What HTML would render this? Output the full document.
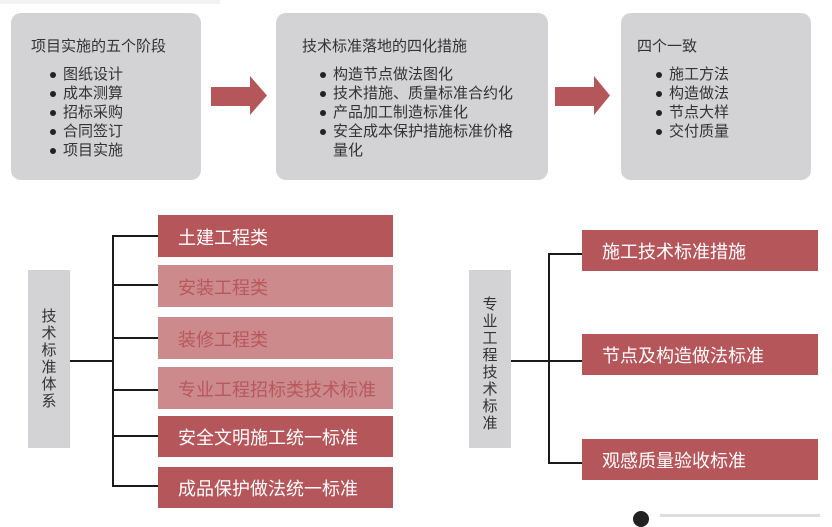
<!DOCTYPE html>
<html><head><meta charset="utf-8"><style>
*{margin:0;padding:0;box-sizing:border-box}
body{width:832px;height:517px;background:#fff;position:relative;overflow:hidden;font-family:"Liberation Sans","Noto Sans CJK SC",sans-serif}
.a{position:absolute}
.g{background:#d3d3d5;border-radius:10px}
.t{position:absolute;font-size:15px;color:#333;white-space:nowrap;line-height:19px}
.li{position:absolute;font-size:15px;color:#333;white-space:nowrap;line-height:19px}
.li:before{content:"";position:absolute;left:-13px;top:7px;width:6px;height:6px;border-radius:50%;background:#222}
.bar{position:absolute;background:#b5565a;color:#fff;font-size:18px;line-height:46px;padding-left:20px;white-space:nowrap}
.lt{background:#cc8a8c;color:#b8585c}
.vl{position:absolute;background:#d3d3d5;color:#333;font-size:15px;line-height:17px;text-align:center}
.k{position:absolute;background:#1a1a1a}
</style></head><body>
<div class="a" style="left:0;top:0;width:220px;height:4px;background:#f2f2f2"></div>
<div class="a g" style="left:11px;top:13px;width:190px;height:167px"></div>
<div class="t" style="left:31px;top:37px">项目实施的五个阶段</div>
<div class="li" style="left:63px;top:65px">图纸设计</div>
<div class="li" style="left:63px;top:84px">成本测算</div>
<div class="li" style="left:63px;top:103px">招标采购</div>
<div class="li" style="left:63px;top:122px">合同签订</div>
<div class="li" style="left:63px;top:141px">项目实施</div>

<div class="a g" style="left:276px;top:13px;width:272px;height:167px"></div>
<div class="t" style="left:302px;top:37px">技术标准落地的四化措施</div>
<div class="li" style="left:333px;top:65px">构造节点做法图化</div>
<div class="li" style="left:333px;top:84px">技术措施、质量标准合约化</div>
<div class="li" style="left:333px;top:103px">产品加工制造标准化</div>
<div class="li" style="left:333px;top:122px">安全成本保护措施标准价格</div>
<div class="t" style="left:333px;top:141px">量化</div>

<div class="a g" style="left:621px;top:13px;width:190px;height:167px"></div>
<div class="t" style="left:637px;top:37px">四个一致</div>
<div class="li" style="left:669px;top:65px">施工方法</div>
<div class="li" style="left:669px;top:84px">构造做法</div>
<div class="li" style="left:669px;top:103px">节点大样</div>
<div class="li" style="left:669px;top:122px">交付质量</div>

<svg class="a" style="left:0;top:0" width="832" height="200">
<polygon points="211,87 250,87 250,76 267,95.5 250,115 250,106 211,106" fill="#b5565a"/>
<polygon points="555,87 594,87 594,76 610,95.5 594,115 594,106 555,106" fill="#b5565a"/>
</svg>

<div class="vl" style="left:28px;top:270px;width:42px;height:178px;padding-top:38px">技<br>术<br>标<br>准<br>体<br>系</div>
<div class="k" style="left:70px;top:360px;width:44px;height:2px"></div>
<div class="k" style="left:112px;top:235px;width:2px;height:252px"></div>
<div class="k" style="left:112px;top:235px;width:46px;height:2px"></div>
<div class="k" style="left:112px;top:284px;width:46px;height:2px"></div>
<div class="k" style="left:112px;top:337px;width:46px;height:2px"></div>
<div class="k" style="left:112px;top:389px;width:46px;height:2px"></div>
<div class="k" style="left:112px;top:435px;width:46px;height:2px"></div>
<div class="k" style="left:112px;top:485px;width:46px;height:2px"></div>
<div class="bar" style="left:158px;top:215px;width:235px;height:42px">土建工程类</div>
<div class="bar lt" style="left:158px;top:265px;width:235px;height:42px">安装工程类</div>
<div class="bar lt" style="left:158px;top:317px;width:235px;height:42px">装修工程类</div>
<div class="bar lt" style="left:158px;top:367px;width:235px;height:42px">专业工程招标类技术标准</div>
<div class="bar" style="left:158px;top:416px;width:235px;height:41px;line-height:45px">安全文明施工统一标准</div>
<div class="bar" style="left:158px;top:467px;width:235px;height:41px;line-height:45px">成品保护做法统一标准</div>

<div class="vl" style="left:469px;top:270px;width:42px;height:178px;padding-top:26px">专<br>业<br>工<br>程<br>技<br>术<br>标<br>准</div>
<div class="k" style="left:511px;top:360px;width:38px;height:2px"></div>
<div class="k" style="left:548px;top:253px;width:2px;height:211px"></div>
<div class="k" style="left:548px;top:253px;width:34px;height:2px"></div>
<div class="k" style="left:548px;top:360px;width:34px;height:2px"></div>
<div class="k" style="left:548px;top:462px;width:34px;height:2px"></div>
<div class="bar" style="left:582px;top:230px;width:236px;height:41px;line-height:45px">施工技术标准措施</div>
<div class="bar" style="left:582px;top:334px;width:236px;height:41px;line-height:45px">节点及构造做法标准</div>
<div class="bar" style="left:582px;top:439px;width:236px;height:41px;line-height:45px">观感质量验收标准</div>

<div class="a" style="left:633px;top:511px;width:16px;height:16px;border-radius:50%;background:#222"></div>
<div class="a" style="left:660px;top:514px;width:160px;height:3px;background:#ddd"></div>
</body></html>
